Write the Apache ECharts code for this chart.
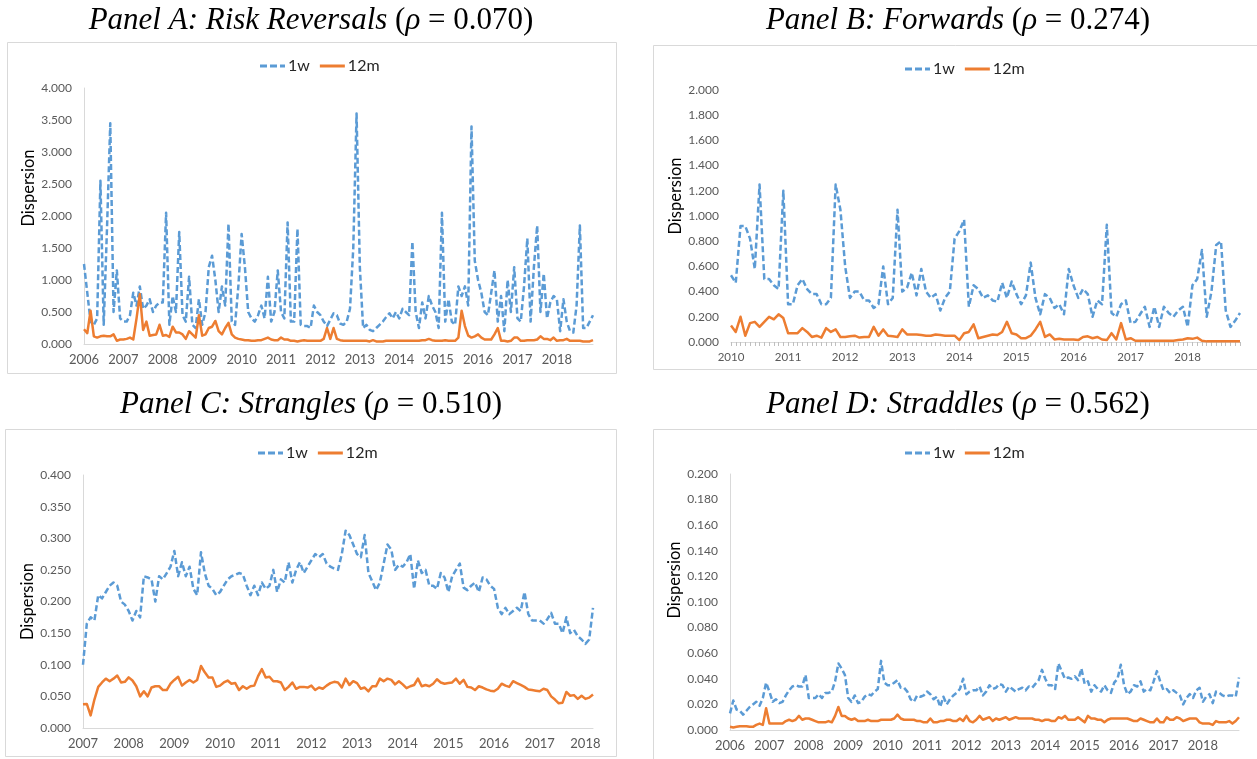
<!DOCTYPE html>
<html>
<head>
<meta charset="utf-8">
<script src="https://cdn.jsdelivr.net/npm/echarts@6/dist/echarts.min.js"></script>
<style>
html, body { margin: 0; padding: 0; background: #ffffff; }
#chart { width: 1257px; height: 759px; }
</style>
</head>
<body>
<div id="chart"></div>
<script>
// ---- Panel text ----
const panelNames = ['Panel A: Risk Reversals', 'Panel B: Forwards', 'Panel C: Strangles', 'Panel D: Straddles'];
const rhoValues = ['0.070', '0.274', '0.510', '0.562'];
const seriesNames = ['1w', '12m'];
const axisTitle = 'Dispersion';

// ---- Axes: first year of monthly data, y range and step ----
const startYears = [2006, 2010, 2007, 2006];
const yMax = [4, 2, 0.4, 0.2];
const yStep = [0.5, 0.2, 0.05, 0.02];

// ---- Panel A: Risk Reversals, monthly 2006-01 .. 2018-12 ----
const rrWeek = [
  1.25, 0.8, 0.35, 0.3, 0.4, 2.55, 0.3, 1.8, 3.45, 0.5, 1.15, 0.4,
  0.35, 0.35, 0.45, 0.8, 0.6, 0.9, 0.55, 0.6, 0.7, 0.5, 0.6, 0.65,
  0.65, 2.05, 0.3, 0.75, 0.5, 1.75, 0.45, 0.35, 1.05, 0.3, 0.25, 0.7,
  0.3, 0.5, 1.2, 1.38, 1.0, 0.5, 0.9, 0.6, 1.88, 0.35, 0.3, 0.9,
  1.72, 1.2, 0.5, 0.4, 0.35, 0.45, 0.6, 0.4, 1.05, 0.35, 0.5, 1.15,
  0.5, 0.4, 1.9, 0.35, 0.35, 1.8, 0.3, 0.28, 0.28, 0.25, 0.6, 0.5,
  0.45, 0.35, 0.28, 0.38, 0.48, 0.45, 0.32, 0.3, 0.35, 0.55, 1.5, 3.6,
  1.2, 0.25, 0.3, 0.22, 0.2, 0.25, 0.3, 0.35, 0.42, 0.48, 0.4, 0.5,
  0.4, 0.55, 0.5, 0.45, 1.6, 0.5, 0.25, 0.65, 0.4, 0.75, 0.6, 0.5,
  0.25, 2.05, 0.35, 0.7, 0.35, 0.3, 0.9, 0.75, 0.9, 0.6, 3.4, 1.3,
  1.0, 0.8, 0.5, 0.45, 0.8, 1.15, 0.35, 0.75, 0.2, 1.0, 0.5, 1.2,
  0.4, 0.35, 0.9, 1.65, 0.35, 1.2, 1.85, 0.5, 1.1, 0.4, 0.65, 0.75,
  0.7, 0.2, 0.7, 0.35, 0.2, 0.18, 0.6, 1.85, 0.25, 0.25, 0.35, 0.45
];
const rrYear = [
  0.23, 0.17, 0.52, 0.12, 0.1, 0.12, 0.13, 0.12, 0.12, 0.15, 0.05, 0.07,
  0.07, 0.08, 0.1, 0.07, 0.4, 0.78, 0.22, 0.35, 0.13, 0.14, 0.15, 0.3,
  0.13, 0.14, 0.11, 0.27, 0.18, 0.18, 0.15, 0.08, 0.2, 0.15, 0.1, 0.45,
  0.13, 0.15, 0.25, 0.27, 0.36, 0.2, 0.15, 0.25, 0.33, 0.15, 0.1, 0.08,
  0.07, 0.06, 0.06, 0.05, 0.05, 0.06, 0.06, 0.08, 0.1, 0.07, 0.06, 0.06,
  0.1, 0.07, 0.07, 0.05, 0.05, 0.04, 0.05, 0.06, 0.05, 0.05, 0.05, 0.05,
  0.05, 0.08, 0.25, 0.08, 0.25, 0.08, 0.06, 0.05, 0.05, 0.05, 0.05, 0.05,
  0.05, 0.05, 0.05, 0.04, 0.06, 0.04, 0.04, 0.04, 0.05, 0.05, 0.05, 0.05,
  0.05, 0.05, 0.05, 0.05, 0.05, 0.05, 0.05, 0.06, 0.06, 0.08, 0.06, 0.05,
  0.05, 0.05, 0.06, 0.05, 0.05, 0.05, 0.1, 0.52, 0.28, 0.13, 0.1, 0.12,
  0.15, 0.1, 0.07, 0.07, 0.07, 0.15, 0.25, 0.05, 0.05, 0.04, 0.05, 0.1,
  0.1, 0.05, 0.05, 0.06, 0.06, 0.06, 0.07, 0.12, 0.08, 0.08, 0.06, 0.1,
  0.05, 0.06, 0.06, 0.08, 0.05, 0.05, 0.05, 0.05, 0.04, 0.04, 0.04, 0.06
];

// ---- Panel B: Forwards, monthly 2010-01 .. 2018-12 ----
const fwdWeek = [
  0.53, 0.47, 0.92, 0.92, 0.82, 0.58, 1.25, 0.5, 0.5, 0.45, 0.42, 1.2,
  0.3, 0.3, 0.45, 0.5, 0.42, 0.38, 0.38, 0.3, 0.3, 0.35, 1.25, 1.05,
  0.6, 0.35, 0.4, 0.4, 0.33, 0.33, 0.27, 0.3, 0.6, 0.3, 0.35, 1.05,
  0.4, 0.43, 0.55, 0.37, 0.58, 0.4, 0.35, 0.38, 0.25, 0.35, 0.4, 0.82,
  0.88, 0.97, 0.28, 0.45, 0.42, 0.35, 0.37, 0.33, 0.32, 0.47, 0.35, 0.48,
  0.38, 0.3, 0.37, 0.63, 0.35, 0.22, 0.38, 0.35, 0.27, 0.3, 0.22, 0.58,
  0.45, 0.35, 0.42, 0.38, 0.2, 0.33, 0.3, 0.93, 0.23, 0.2, 0.3, 0.33,
  0.15, 0.16, 0.22, 0.28, 0.12, 0.28, 0.12, 0.28, 0.23, 0.2, 0.25, 0.28,
  0.12, 0.45, 0.5, 0.73, 0.2, 0.4, 0.77, 0.8, 0.25, 0.12, 0.17, 0.23
];
const fwdYear = [
  0.13, 0.08, 0.2, 0.05, 0.15, 0.16, 0.12, 0.16, 0.2, 0.18, 0.22, 0.19,
  0.07, 0.07, 0.07, 0.11, 0.08, 0.04, 0.05, 0.035, 0.11, 0.08, 0.1, 0.04,
  0.04, 0.045, 0.05, 0.035, 0.04, 0.04, 0.12, 0.05, 0.1, 0.05, 0.045, 0.04,
  0.1, 0.06, 0.06, 0.06, 0.055, 0.05, 0.05, 0.06, 0.055, 0.05, 0.05, 0.05,
  0.015, 0.07, 0.08, 0.14, 0.03, 0.04, 0.05, 0.06, 0.055, 0.08, 0.16, 0.07,
  0.06, 0.03, 0.03, 0.05, 0.1, 0.16, 0.04, 0.06, 0.02, 0.025, 0.02, 0.02,
  0.02, 0.015, 0.04, 0.045, 0.03, 0.04, 0.02, 0.015, 0.07, 0.02, 0.15, 0.02,
  0.03, 0.01, 0.01, 0.01, 0.01, 0.01, 0.01, 0.01, 0.01, 0.01, 0.015, 0.02,
  0.03, 0.025, 0.035, 0.01, 0.005, 0.005, 0.005, 0.005, 0.005, 0.005, 0.005, 0.005
];

// ---- Panel C: Strangles, monthly 2007-01 .. 2018-03 ----
const strWeek = [
  0.10, 0.165, 0.175, 0.17, 0.21, 0.205, 0.215, 0.225, 0.23, 0.225, 0.2, 0.195,
  0.185, 0.17, 0.185, 0.175, 0.24, 0.238, 0.235, 0.2, 0.24, 0.235, 0.245, 0.255,
  0.28, 0.24, 0.262, 0.24, 0.255, 0.22, 0.21, 0.278, 0.245, 0.225, 0.22, 0.21,
  0.215, 0.225, 0.235, 0.24, 0.242, 0.245, 0.243, 0.225, 0.21, 0.225, 0.21, 0.23,
  0.22, 0.225, 0.25, 0.215, 0.235, 0.23, 0.262, 0.23, 0.25, 0.262, 0.245, 0.255,
  0.265, 0.275, 0.27, 0.275, 0.26, 0.255, 0.252, 0.25, 0.275, 0.312, 0.305, 0.29,
  0.275, 0.27, 0.305, 0.245, 0.232, 0.218, 0.23, 0.26, 0.29, 0.282, 0.25, 0.258,
  0.255, 0.262, 0.275, 0.22, 0.265, 0.245, 0.25, 0.225, 0.225, 0.22, 0.245, 0.238,
  0.215, 0.24, 0.25, 0.26, 0.222, 0.218, 0.225, 0.23, 0.215, 0.238, 0.235, 0.225,
  0.22, 0.19, 0.18, 0.19, 0.18, 0.185, 0.19, 0.185, 0.215, 0.18, 0.17, 0.17,
  0.17, 0.165, 0.172, 0.182, 0.165, 0.165, 0.15, 0.175, 0.15, 0.155, 0.145, 0.14,
  0.133, 0.14, 0.19
];
const strYear = [
  0.0375, 0.038, 0.02, 0.045, 0.065, 0.072, 0.078, 0.074, 0.078, 0.083, 0.072, 0.073,
  0.08, 0.075, 0.066, 0.05, 0.058, 0.05, 0.064, 0.066, 0.066, 0.06, 0.06, 0.07,
  0.076, 0.081, 0.067, 0.072, 0.076, 0.072, 0.076, 0.098, 0.088, 0.08, 0.08, 0.065,
  0.067, 0.072, 0.075, 0.07, 0.071, 0.06, 0.066, 0.062, 0.066, 0.067, 0.082, 0.093,
  0.08, 0.081, 0.074, 0.074, 0.072, 0.06, 0.065, 0.072, 0.062, 0.065, 0.065, 0.064,
  0.067, 0.06, 0.064, 0.062, 0.067, 0.071, 0.073, 0.072, 0.064, 0.078, 0.068, 0.074,
  0.071, 0.062, 0.064, 0.058, 0.066, 0.066, 0.078, 0.074, 0.078, 0.076, 0.069, 0.074,
  0.069, 0.063, 0.066, 0.068, 0.078, 0.066, 0.068, 0.066, 0.07, 0.077, 0.072, 0.07,
  0.071, 0.072, 0.078, 0.07, 0.076, 0.065, 0.064, 0.06, 0.066, 0.064, 0.061, 0.059,
  0.058, 0.062, 0.07, 0.067, 0.065, 0.074, 0.071, 0.068, 0.065, 0.061, 0.06, 0.059,
  0.058, 0.062, 0.06, 0.05, 0.045, 0.039, 0.04, 0.057, 0.051, 0.052, 0.046, 0.051,
  0.046, 0.048, 0.053
];

// ---- Panel D: Straddles, monthly 2006-01 .. 2018-12 ----
const stdWeek = [
  0.013, 0.023, 0.016, 0.015, 0.012, 0.015, 0.018, 0.02, 0.022, 0.019, 0.025, 0.037,
  0.03, 0.022, 0.024, 0.021, 0.022, 0.027, 0.031, 0.034, 0.035, 0.034, 0.034, 0.043,
  0.025, 0.025, 0.025, 0.028, 0.025, 0.029, 0.029, 0.03, 0.038, 0.052, 0.048, 0.043,
  0.025, 0.022, 0.027, 0.021, 0.022, 0.026, 0.028, 0.027, 0.03, 0.032, 0.054, 0.037,
  0.035, 0.035, 0.037, 0.039, 0.033, 0.033, 0.03, 0.024, 0.022, 0.027, 0.026, 0.027,
  0.03, 0.028, 0.024, 0.026, 0.018, 0.026, 0.02, 0.024, 0.027, 0.029, 0.032, 0.04,
  0.028, 0.03, 0.031, 0.031, 0.034, 0.027, 0.03, 0.035, 0.032, 0.033, 0.036, 0.035,
  0.03, 0.034, 0.032, 0.03, 0.032, 0.033, 0.031, 0.034, 0.033, 0.036, 0.039, 0.047,
  0.04, 0.035, 0.035, 0.032, 0.052, 0.046, 0.04, 0.041, 0.04, 0.042, 0.039, 0.048,
  0.036, 0.038, 0.03, 0.035, 0.032, 0.03, 0.035, 0.031, 0.029, 0.037, 0.04, 0.051,
  0.035, 0.028, 0.03, 0.035, 0.034, 0.038, 0.03, 0.032, 0.031, 0.038, 0.046, 0.038,
  0.031, 0.032, 0.029, 0.031, 0.029, 0.027, 0.02, 0.025, 0.028, 0.025, 0.031, 0.033,
  0.022, 0.026, 0.028, 0.021, 0.03, 0.029, 0.027, 0.026, 0.027, 0.027, 0.026, 0.041
];
const stdYear = [
  0.0025, 0.002, 0.0025, 0.003, 0.003, 0.003, 0.0025, 0.0025, 0.004, 0.005, 0.004, 0.017,
  0.005, 0.005, 0.005, 0.005, 0.005, 0.007, 0.008, 0.007, 0.008, 0.011, 0.008, 0.009,
  0.009, 0.008, 0.007, 0.006, 0.006, 0.006, 0.007, 0.006, 0.011, 0.018, 0.011, 0.011,
  0.009, 0.008, 0.009, 0.007, 0.007, 0.007, 0.008, 0.007, 0.007, 0.007, 0.008, 0.008,
  0.008, 0.008, 0.009, 0.012, 0.009, 0.008, 0.008, 0.008, 0.008, 0.007, 0.007, 0.006,
  0.006, 0.009, 0.006, 0.006, 0.007, 0.007, 0.008, 0.008, 0.007, 0.007, 0.009, 0.007,
  0.011, 0.007, 0.006, 0.008, 0.011, 0.008, 0.009, 0.01, 0.007, 0.009, 0.008, 0.009,
  0.01, 0.008, 0.009, 0.01, 0.009, 0.009, 0.009, 0.009, 0.009, 0.008, 0.008, 0.007,
  0.008, 0.008, 0.007, 0.007, 0.01, 0.009, 0.011, 0.008, 0.008, 0.008, 0.01, 0.008,
  0.006, 0.011, 0.009, 0.009, 0.008, 0.008, 0.006, 0.008, 0.009, 0.009, 0.009, 0.009,
  0.009, 0.009, 0.008, 0.007, 0.007, 0.009, 0.008, 0.007, 0.006, 0.006, 0.009, 0.006,
  0.006, 0.01, 0.008, 0.008, 0.01, 0.009, 0.007, 0.008, 0.009, 0.009, 0.009, 0.006,
  0.005, 0.005, 0.005, 0.004, 0.007, 0.006, 0.006, 0.006, 0.007, 0.005, 0.007, 0.01
];

const panelData = [[rrWeek, rrYear], [fwdWeek, fwdYear], [strWeek, strYear], [stdWeek, stdYear]];

// ---- Styling and placement of the four panels ----
const COLORS = ['#5B9BD5', '#ED7D31'];
const GRAY_LINE = '#D9D9D9';
const LABEL_GRAY = '#595959';
const SANS = 'Lato, "Open Sans", sans-serif';
const SERIF = '"Liberation Serif", "DejaVu Serif", serif';

// Legend keys: a dashed stroke for 1w and a solid stroke for 12m
const LEGEND_ICONS = [
  'path://M0,0H7V3H0Z M10,0H17V3H10Z M20,0H25V3H20Z',
  'path://M0,0H25V3H0Z'
];

const layout = [
  { box: [7.5, 42.5, 609, 331], grid: { left: 84, top: 88, width: 509, height: 256 },
    cx: 311, ty: 21, legendLeft: 255, legendTop: 53, nameShift: 28, yLine: true, ticks: false, xFont: 13 },
  { box: [653.5, 45.5, 620, 324], grid: { left: 731, top: 90, width: 509, height: 252 },
    cx: 958, ty: 21, legendLeft: 900, legendTop: 56, nameShift: 20, yLine: false, ticks: true, xFont: 11.5 },
  { box: [5.5, 429.5, 611, 327], grid: { left: 83, top: 475, width: 510, height: 253 },
    cx: 311, ty: 405, legendLeft: 253, legendTop: 440, nameShift: 0, yLine: true, ticks: false, xFont: 13 },
  { box: [653.5, 429.5, 620, 340], grid: { left: 730, top: 474, width: 509, height: 256 },
    cx: 958, ty: 405, legendLeft: 900, legendTop: 440, nameShift: 22, yLine: true, ticks: false, xFont: 13 }
];

function monthLabels(startYear, count) {
  const out = [];
  for (let i = 0; i < count; i++) {
    const y = startYear + Math.floor(i / 12);
    const m = (i % 12) + 1;
    out.push(y + '-' + String(m).padStart(2, '0'));
  }
  return out;
}

const grids = [], xAxes = [], yAxes = [], series = [], legends = [], graphics = [];

layout.forEach((L, p) => {
  const [wk, yr] = panelData[p];
  const cats = monthLabels(startYears[p], wk.length);

  grids.push(Object.assign({ containLabel: false }, L.grid));

  xAxes.push({
    type: 'category', gridIndex: p, data: cats, boundaryGap: false,
    axisLine: { show: true, lineStyle: { color: GRAY_LINE, width: 1 } },
    axisTick: { show: L.ticks, interval: 0, length: 4, lineStyle: { color: '#BFBFBF' } },
    axisLabel: {
      interval: (idx) => idx % 12 === 0,
      formatter: (v) => v.slice(0, 4),
      margin: 9, fontFamily: SANS, fontSize: L.xFont, color: LABEL_GRAY
    },
    splitLine: { show: false }
  });

  yAxes.push({
    type: 'value', gridIndex: p, min: 0, max: yMax[p], interval: yStep[p],
    axisLine: { show: L.yLine, lineStyle: { color: GRAY_LINE, width: 1 } },
    axisTick: { show: false },
    splitLine: { show: false },
    axisLabel: { formatter: (v) => v.toFixed(3), margin: 12, fontFamily: SANS, fontSize: 12, color: LABEL_GRAY },
    name: axisTitle, nameLocation: 'middle', nameGap: 46, nameRotate: 90,
    nameTextStyle: { fontFamily: SANS, fontSize: 16.5, color: '#000000', padding: [0, 0, 0, L.nameShift * 2] }
  });

  [wk, yr].forEach((vals, s) => {
    series.push({
      type: 'line', name: seriesNames[s], xAxisIndex: p, yAxisIndex: p,
      data: vals, symbol: 'none', showSymbol: false, smooth: false,
      lineStyle: { color: COLORS[s], width: 2.5, type: s === 0 ? [6, 3] : 'solid', join: 'round' },
      itemStyle: { color: COLORS[s] },
      z: 2 + s
    });
  });

  legends.push({
    left: L.legendLeft, top: L.legendTop, orient: 'horizontal',
    data: seriesNames.map((n, s) => ({ name: n, icon: LEGEND_ICONS[s] })),
    itemWidth: 25, itemHeight: 14, itemGap: 10,
    selectedMode: false,
    textStyle: { fontFamily: SANS, fontSize: 16, color: '#262626', padding: [0, 0, 0, -2] }
  });

  graphics.push({
    type: 'rect', silent: true, z: -10,
    shape: { x: L.box[0], y: L.box[1], width: L.box[2], height: L.box[3] },
    style: { fill: '#ffffff', stroke: GRAY_LINE, lineWidth: 1 }
  });

  graphics.push({
    type: 'text', silent: true, x: L.cx, y: L.ty,
    style: {
      text: '{it|' + panelNames[p] + ' }{up|(}{it|ρ}{up| = ' + rhoValues[p] + ')}',
      textAlign: 'center', textVerticalAlign: 'middle',
      rich: {
        it: { fontFamily: SERIF, fontStyle: 'italic', fontSize: 31, fill: '#000000' },
        up: { fontFamily: SERIF, fontStyle: 'normal', fontSize: 31, fill: '#000000' }
      }
    }
  });
});

const chart = echarts.init(document.getElementById('chart'), null, { renderer: 'canvas' });
chart.setOption({
  animation: false,
  backgroundColor: '#ffffff',
  grid: grids,
  xAxis: xAxes,
  yAxis: yAxes,
  legend: legends,
  series: series,
  graphic: graphics
});
</script>
</body>
</html>
